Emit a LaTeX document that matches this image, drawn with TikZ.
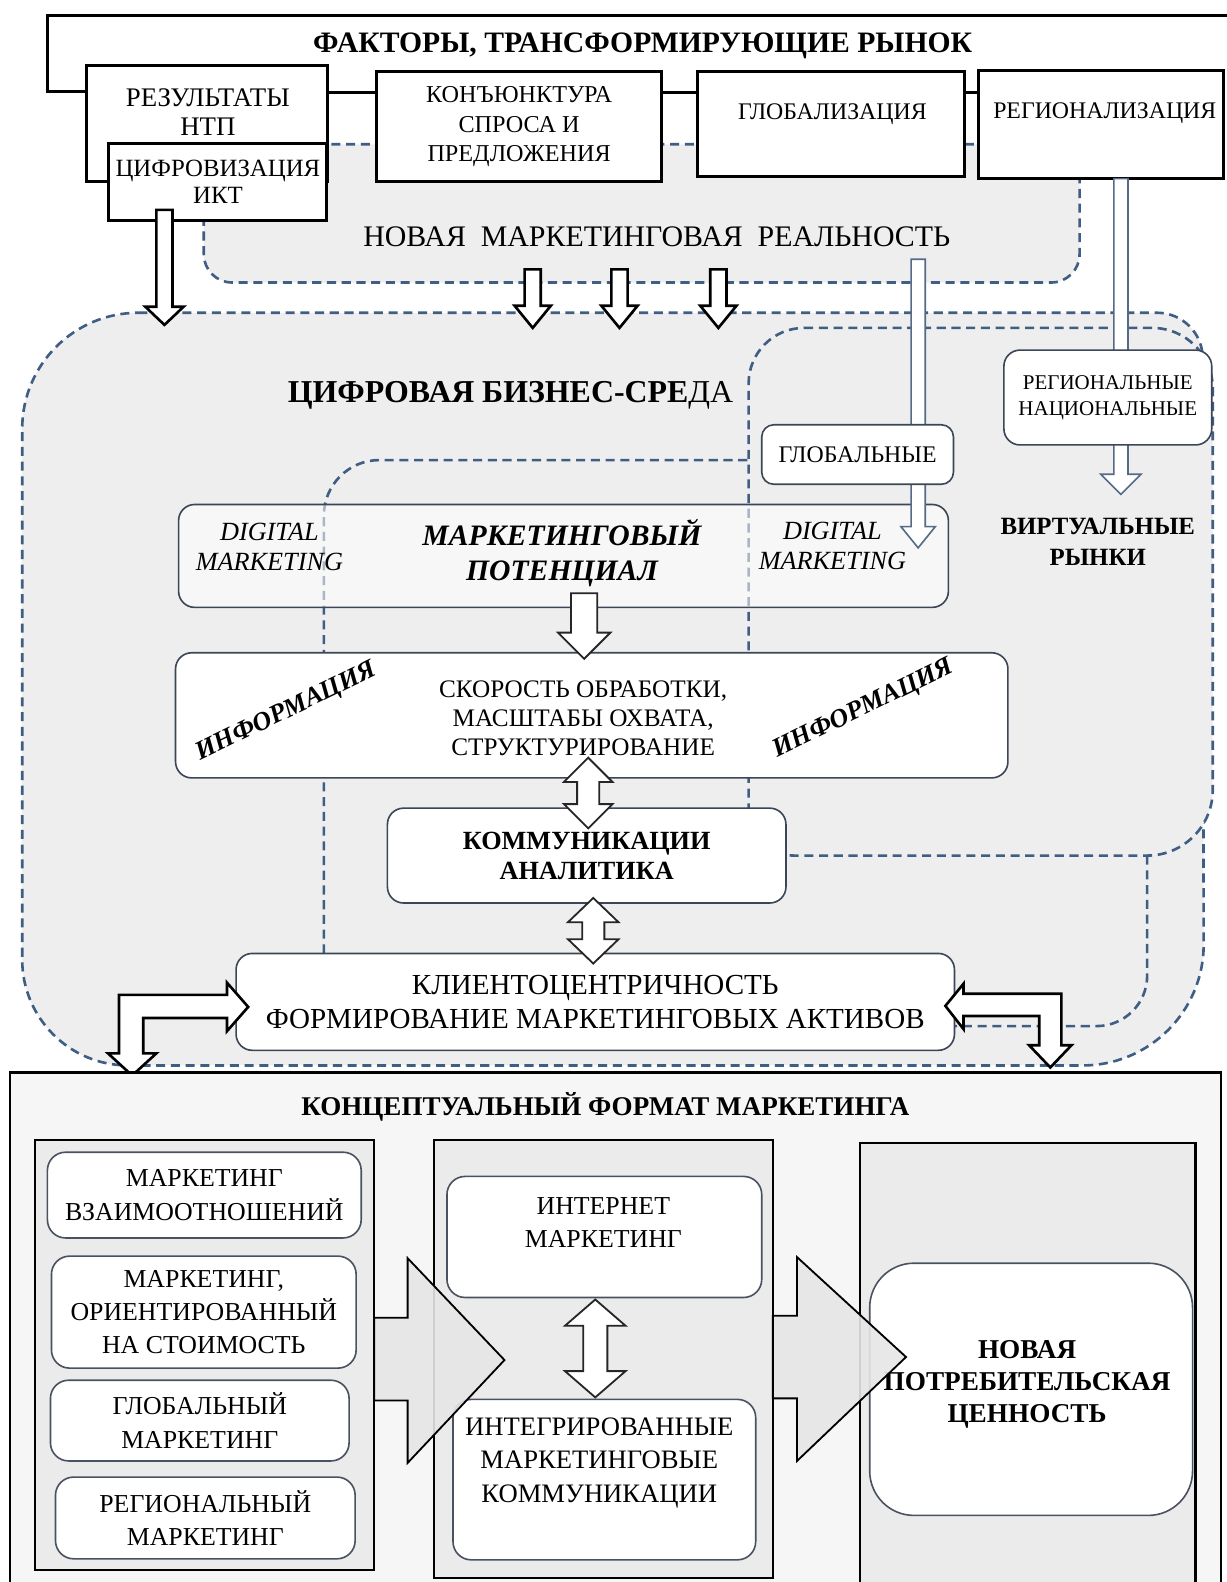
\documentclass[tikz,border=0pt]{standalone}
\usepackage{fontspec}
\setmainfont{Liberation Serif}
\usetikzlibrary{calc}
\definecolor{dashc}{HTML}{3F5E84}
\definecolor{rim}{HTML}{3B4656}
\definecolor{zone}{HTML}{EEEEEE}
\definecolor{arrowrim}{HTML}{556A86}
\definecolor{colfill}{HTML}{EBEBEB}
\definecolor{bigfill}{HTML}{E6E6E6}
\definecolor{panel}{HTML}{F6F6F6}
\definecolor{itemrim}{HTML}{4A5260}

\newcommand\fsz[2]{\fontsize{#1}{#2}\selectfont}
% rectangle node given by its corners (x1,y1) and (x2,y2)
\newcommand\boxat[7]{\node[#2,anchor=north west,minimum width={(#5-#3)*0.5pt},minimum height={(#6-#4)*0.5pt}] (#1) at (#3,#4) {#7};}
% hollow block arrow pointing down: style, x, y start, y tip, shaft half width, head half width, head length
\newcommand\varrow[7]{\draw[#1] (#2-#5,#3) -- (#2-#5,#4-#7) -- (#2-#6,#4-#7) -- (#2,#4) -- (#2+#6,#4-#7) -- (#2+#5,#4-#7) -- (#2+#5,#3) -- cycle;}
% hollow vertical double block arrow: style, x, upper tip, lower tip, shaft half width, head half width, head length
\newcommand\dblarrow[7]{\draw[#1] (#2,#3) -- (#2+#6,#3+#7) -- (#2+#5,#3+#7) -- (#2+#5,#4-#7) -- (#2+#6,#4-#7) -- (#2,#4) -- (#2-#6,#4-#7) -- (#2-#5,#4-#7) -- (#2-#5,#3+#7) -- (#2-#6,#3+#7) -- cycle;}

\begin{document}
\begin{tikzpicture}[x=0.5pt,y=-0.5pt,
  region/.style={draw=dashc,line width=1.3pt,dash pattern=on 4.5pt off 2.8pt,fill=zone},
  dline/.style={draw=dashc,line width=1.3pt,dash pattern=on 4.5pt off 2.8pt},
  frameline/.style={draw=black,line width=1.5pt},
  hardbox/.style={draw=black,line width=1.5pt,fill=white,inner sep=0pt,outer sep=0pt,align=center},
  softbox/.style={draw=rim,line width=0.8pt,fill=white,rounded corners=8pt,inner sep=0pt,outer sep=0pt,align=center},
  blockarr/.style={draw=black,line width=1.3pt,fill=white,line join=miter},
  midarr/.style={draw=black!85,line width=0.9pt,fill=white,line join=miter},
  thinarr/.style={draw=arrowrim,line width=0.8pt,fill=white,line join=miter},
  bigarr/.style={draw=black,line width=0.9pt,fill=bigfill,fill opacity=0.9,line join=miter},
  column/.style={draw=black,line width=1.1pt,fill=colfill,inner sep=0pt,outer sep=0pt},
  item/.style={draw=itemrim,line width=0.8pt,fill=white,rounded corners=9pt,inner sep=0pt,outer sep=0pt,align=center,font=\fsz{12.8}{16.5}},
  txt/.style={inner sep=0pt,align=center}
]
\useasboundingbox (0,0) rectangle (1216,1568);
\fill[white] (0,0) rectangle (1216,1568);

% ---------- dashed zones ----------
% digital business environment
\path[region] (137,310) -- (1147,310) arc[start angle=270,end angle=360,radius=45]
  -- (1193,936) arc[start angle=0,end angle=90,radius=120]
  -- (127,1056) arc[start angle=90,end angle=180,radius=105]
  -- (22,425) arc[start angle=180,end angle=270,radius=115] -- cycle;
% new marketing reality
\path[region,rounded corners=14pt] (202,143) rectangle (1070,280);
% virtual markets
\path[region] (797,325) -- (1142,325) arc[start angle=270,end angle=360,radius=60]
  -- (1202,783) arc[start angle=0,end angle=90,radius=65]
  -- (787,848) arc[start angle=90,end angle=180,radius=45]
  -- (742,380) arc[start angle=180,end angle=270,radius=55] -- cycle;
% marketing potential zone (visible parts of its outline)
\draw[dline] (321,945) -- (321,511) arc[start angle=180,end angle=270,radius=55] -- (742,456);
\draw[dline] (1137,848) -- (1137,967) arc[start angle=0,end angle=90,radius=50] -- (946,1017);

% ---------- factors ----------
\draw[frameline] (86,91) -- (47,91) -- (47,15) -- (1230,15);
\node[txt,font=\bfseries\fsz{14.7}{18}] (factors) at (637,45) {ФАКТОРЫ, ТРАНСФОРМИРУЮЩИЕ РЫНОК};

\boxat{rez}{hardbox}{86}{65}{325}{180}{}
\node[txt,font=\fsz{13.3}{14}] (reztxt) at (206,111) {РЕЗУЛЬТАТЫ\\НТП};
\boxat{cifr}{hardbox,font=\fsz{12.3}{13.5}}{108}{142}{324}{219}{ЦИФРОВИЗАЦИЯ\\ИКТ}
\boxat{konj}{hardbox,font=\fsz{12}{14.5}}{373}{71}{656}{180}{КОНЪЮНКТУРА\\СПРОСА И\\ПРЕДЛОЖЕНИЯ}
\boxat{glob}{hardbox}{691}{71}{956}{175}{}
\node[txt,font=\fsz{11.8}{14}] (globtxt) at (825,113) {ГЛОБАЛИЗАЦИЯ};
\boxat{regn}{hardbox}{970}{70}{1213}{177}{}
\node[txt,font=\fsz{11.8}{14}] (regntxt) at (1095,112) {РЕГИОНАЛИЗАЦИЯ};
\draw[frameline] (rez.east|-0,92) -- (konj.west|-0,92);
\draw[frameline] (konj.east|-0,92) -- (glob.west|-0,92);
\draw[frameline] (glob.east|-0,92) -- (regn.west|-0,92);

\node[txt,font=\fsz{14.8}{17}] (reality) at (651,235) {НОВАЯ\ \ МАРКЕТИНГОВАЯ\ \ РЕАЛЬНОСТЬ};

\varrow{blockarr}{163}{208}{322}{8}{19}{18}
\varrow{blockarr}{528}{267}{325}{8}{18}{22}
\varrow{blockarr}{614}{267}{325}{8}{18}{22}
\varrow{blockarr}{712}{267}{325}{8}{18}{22}

% ---------- digital business environment ----------
\node[txt,font=\fsz{15.8}{18}] (env) at (506,392) {\bfseries ЦИФРОВАЯ БИЗНЕС-СРЕ\mdseries ДА};
\node[txt,font=\bfseries\fsz{12.3}{15}] (virt) at (1088,537) {ВИРТУАЛЬНЫЕ\\РЫНКИ};

\varrow{thinarr}{1111}{177}{490}{7}{20}{20}
\boxat{regnat}{softbox,font=\fsz{10.4}{13}}{995}{347}{1201}{441}{РЕГИОНАЛЬНЫЕ\\НАЦИОНАЛЬНЫЕ}

\boxat{pot}{softbox,fill opacity=0.55}{177}{500}{940}{602}{}
\node[txt,font=\itshape\fsz{13}{14.5}] (dm1) at (267,542) {DIGITAL\\MARKETING};
\node[txt,font=\bfseries\itshape\fsz{14.7}{17.5}] (pottxt) at (557,548) {МАРКЕТИНГОВЫЙ\\ПОТЕНЦИАЛ};
\node[txt,font=\itshape\fsz{13}{15}] (dm2) at (825,541) {DIGITAL\\MARKETING};
\varrow{thinarr}{910}{257}{543}{7}{17}{21}
\boxat{globn}{softbox,rounded corners=6pt,font=\fsz{11.8}{13}}{755}{421}{945}{480}{ГЛОБАЛЬНЫЕ}

\boxat{info}{softbox}{174}{647}{999}{771}{}
\node[txt,font=\fsz{12.5}{14.3}] (infotxt) at (578,712) {СКОРОСТЬ ОБРАБОТКИ,\\МАСШТАБЫ ОХВАТА,\\СТРУКТУРИРОВАНИЕ};
\node[txt,font=\bfseries\itshape\fsz{13}{15},rotate=26] (info1) at (284,706) {ИНФОРМАЦИЯ};
\node[txt,font=\bfseries\itshape\fsz{13}{15},rotate=26] (info2) at (856,703) {ИНФОРМАЦИЯ};

\boxat{komm}{softbox,font=\bfseries\fsz{13}{15}}{384}{801}{779}{895}{КОММУНИКАЦИИ\\АНАЛИТИКА}
\boxat{klient}{softbox,font=\fsz{14.4}{16.5}}{234}{945}{946}{1041}{КЛИЕНТОЦЕНТРИЧНОСТЬ\\ФОРМИРОВАНИЕ МАРКЕТИНГОВЫХ АКТИВОВ}

\varrow{midarr}{579}{588}{653}{13}{26}{26}
\dblarrow{midarr}{583}{751}{821}{11}{24}{24}
\dblarrow{midarr}{588}{890}{955}{11}{25}{24}

% bent arrows linking the client box with the conceptual format
\draw[blockarr] (225,986) -- (225,974) -- (246,998) -- (225,1022) -- (225,1009) -- (142,1009)
  -- (142,1044) -- (155,1044) -- (131,1066) -- (107,1044) -- (118,1044) -- (118,986) -- cycle;
\draw[blockarr] (955,985) -- (955,975) -- (937,997) -- (955,1020) -- (955,1007) -- (1030,1007)
  -- (1030,1036) -- (1020,1036) -- (1041,1058) -- (1062,1036) -- (1052,1036) -- (1052,985) -- cycle;

% ---------- conceptual format ----------
\boxat{conc}{draw=black,line width=1.1pt,fill=panel,inner sep=0pt,outer sep=0pt}{10}{1063}{1210}{1600}{}
\node[txt,font=\bfseries\fsz{13.4}{16}] (conctxt) at (600,1097) {КОНЦЕПТУАЛЬНЫЙ ФОРМАТ МАРКЕТИНГА};

\boxat{colA}{column}{35}{1130}{371}{1556}{}
\boxat{colB}{column}{430}{1130}{766}{1564}{}
\boxat{colC}{column}{852}{1133}{1185}{1570}{}

\boxat{m1}{item}{47}{1142}{358}{1227}{МАРКЕТИНГ\\ВЗАИМООТНОШЕНИЙ}
\boxat{m2}{item}{51}{1245}{353}{1356}{МАРКЕТИНГ,\\ОРИЕНТИРОВАННЫЙ\\НА СТОИМОСТЬ}
\boxat{m3}{item}{50}{1368}{346}{1448}{ГЛОБАЛЬНЫЙ\\МАРКЕТИНГ}
\boxat{m4}{item}{55}{1464}{352}{1545}{РЕГИОНАЛЬНЫЙ\\МАРКЕТИНГ}

\boxat{inet}{item}{443}{1166}{755}{1286}{}
\node[txt,font=\fsz{12.8}{16.5}] (inettxt) at (598,1212) {ИНТЕРНЕТ\\МАРКЕТИНГ};
\boxat{imc}{item}{449}{1387}{749}{1546}{}
\node[txt,font=\fsz{13.2}{16.5}] (imctxt) at (594,1450) {ИНТЕГРИРОВАННЫЕ\\МАРКЕТИНГОВЫЕ\\КОММУНИКАЦИИ};
\dblarrow{midarr}{590}{1288}{1385}{12}{30}{26}

\boxat{value}{item,rounded corners=22pt}{862}{1252}{1182}{1502}{}
\node[txt,font=\bfseries\fsz{13.5}{16}] (valtxt) at (1018,1372) {НОВАЯ\\ПОТРЕБИТЕЛЬСКАЯ\\ЦЕННОСТЬ};

\draw[bigarr] (371,1306) -- (404,1306) -- (404,1247) -- (500,1348) -- (404,1450) -- (404,1388) -- (371,1388) -- cycle;
\draw[bigarr] (766,1304) -- (790,1304) -- (790,1246) -- (898,1345) -- (790,1448) -- (790,1386) -- (766,1386) -- cycle;
\end{tikzpicture}
\end{document}
